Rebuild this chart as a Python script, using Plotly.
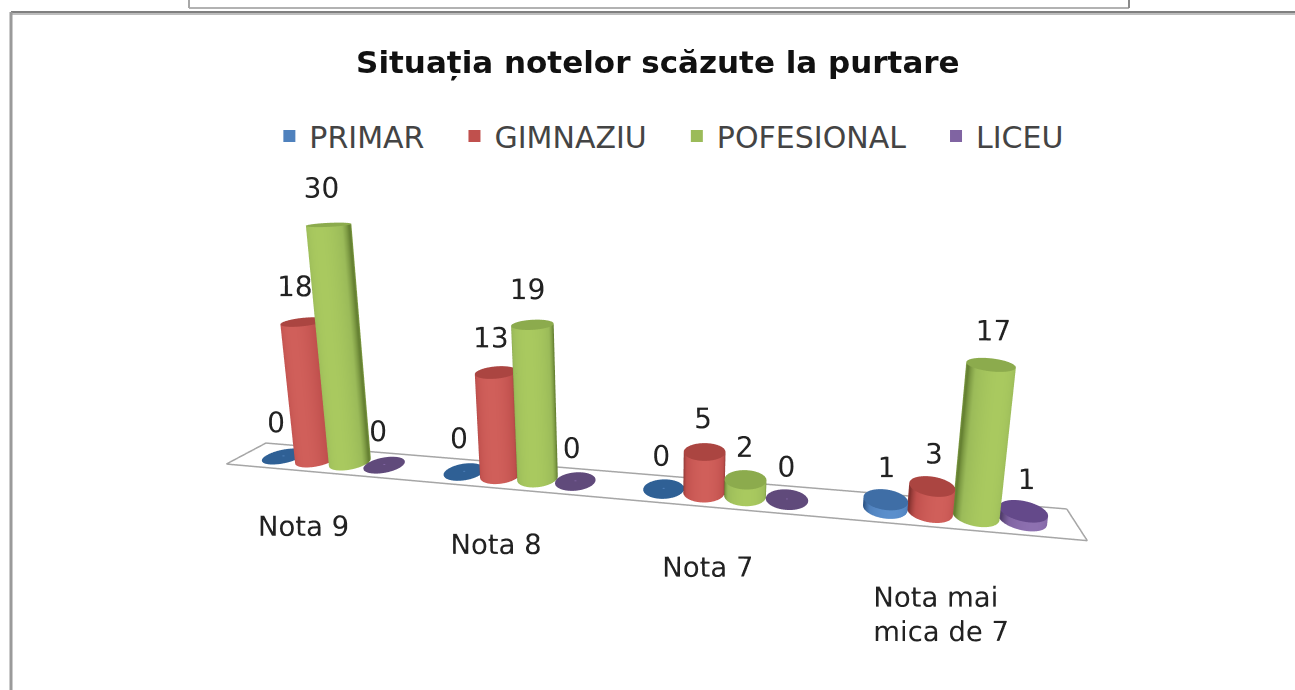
import numpy as np
import plotly.graph_objects as go

categories = ["Nota 9", "Nota 8", "Nota 7", "Nota mai<br>mica de 7"]
series_names = ["PRIMAR", "GIMNAZIU", "POFESIONAL", "LICEU"]
primar = [0, 0, 0, 1]
gimnaziu = [18, 13, 5, 3]
pofesional = [30, 19, 2, 17]
liceu = [0, 0, 0, 1]
series_values = [primar, gimnaziu, pofesional, liceu]

W, H = 1295, 690
XR = (-0.5, 3.5); YR = (-3.0, 3.0); ZR = (-1.0, 40.0)
ex, ey, ez, cx, cy, upx, sy, sz = 0.22450, -0.85286, 0.19801, 0.05366, -0.05154, -0.02001, 0.07735, 0.00997

ay = (YR[1]-YR[0])*sy; az = (ZR[1]-ZR[0])*sz
fig = go.Figure()
colors = ["#4f81bd", "#c0504d", "#9bbb59", "#8064a2"]
dark = ["#2c5282", "#7d2f2c", "#5f7a2e", "#4e3a68"]
light = ["#5b8fcc", "#d05f5a", "#a9c95f", "#8d70b0"]
caps = ["#3f6ea6", "#ab4541", "#8cab4d", "#64498a"]
flat = ["#2f6095", "#c0504d", "#9bbb59", "#604a7b"]
w = .19
rx = .095
ry = 1.2*rx*(1/(XR[1]-XR[0]))/sy
tv = np.arctan2(ey-cy, ex-cx)
matte = dict(ambient=1, diffuse=0, specular=0, fresnel=0, roughness=1)
for j, vals in enumerate(series_values):
    scale = [[0, dark[j]], [.5, colors[j]], [1, light[j]]]
    xs = [i+(j-1.5)*w for i in range(4)]
    for xc, v in zip(xs, vals):
        yc = .5
        th = np.linspace(0, 2*np.pi, 49)
        if v > 0:
            X = np.vstack([xc+rx*np.cos(th)]*2); Y = np.vstack([yc+ry*np.sin(th)]*2)
            Z = np.vstack([0*th, 0*th+v])
            C = np.vstack([np.abs(np.cos(th-tv))]*2)
            fig.add_trace(go.Surface(x=X, y=Y, z=Z, surfacecolor=C, colorscale=scale, cmin=0, cmax=1,
                                     showscale=False, hoverinfo="skip", lighting=matte))
        rr = np.array([0, 1.0])
        X = xc+rx*np.outer(rr, np.cos(th)); Y = yc+ry*np.outer(rr, np.sin(th)); Z = np.full(X.shape, float(v))
        col = caps[j] if v > 0 else flat[j]
        fig.add_trace(go.Surface(x=X, y=Y, z=Z, surfacecolor=0*X, colorscale=[[0, col], [1, col]], cmin=0, cmax=1,
                                 showscale=False, hoverinfo="skip", lighting=matte))
    fig.add_trace(go.Scatter3d(x=xs, y=[.3]*4, z=vals, mode="text", text=[str(v) for v in vals],
                               textposition="top center", textfont=dict(family="DejaVu Sans", size=28, color="#222"),
                               showlegend=False, hoverinfo="skip"))
    fig.add_trace(go.Scatter3d(x=xs, y=[.5]*4, z=[v/2 for v in vals], mode="markers",
                               name=series_names[j]+"\u00a0\u00a0\u2009",
                               marker=dict(size=1, color=colors[j], symbol="square"), hoverinfo="skip"))
floor_x = [-.5, 3.5, 3.5, -.5, -.5]; floor_y = [0, 0, 1, 1, 0]
fig.add_trace(go.Scatter3d(x=floor_x, y=floor_y, z=[0]*5, mode="lines", line=dict(color="#a6a6a6", width=3),
                           showlegend=False, hoverinfo="skip"))
label_x = [i+d for i, d in enumerate([0.06, 0.02, -0.025, -0.1])]
label_y = [-.6, -.6, -.7, -.9]
fig.add_trace(go.Scatter3d(x=label_x, y=label_y, z=[0]*4, mode="text", text=categories, textposition="bottom center",
                           textfont=dict(family="DejaVu Sans", size=27.5, color="#222"), showlegend=False, hoverinfo="skip"))
ax = dict(visible=False, showbackground=False)
frame = [(11, 12, 1295, 12, "#808080", 2), (11, 14, 1295, 14, "#bdbdbd", 2), (11, 12, 11, 690, "#9a9a9a", 3),
         (189, 8, 1129, 8, "#b2b2b2", 2), (189, 0, 189, 8, "#a8a8a8", 2), (1129, 0, 1129, 8, "#8a8a8a", 2)]
fig.update_layout(
    width=W, height=H, margin=dict(l=0, r=0, t=0, b=0), paper_bgcolor="white",
    title=dict(text="<b>Situația notelor scăzute la purtare</b>", x=.508, y=.91, xanchor="center", yanchor="middle",
               font=dict(family="DejaVu Sans", size=31, color="#111")),
    legend=dict(orientation="h", x=.208, y=.803, yanchor="middle", itemsizing="constant",
                font=dict(family="DejaVu Sans", size=30, color="#444")),
    scene=dict(domain=dict(x=[0, 1], y=[0, 1]),
               xaxis=dict(range=list(XR), **ax), yaxis=dict(range=list(YR), **ax), zaxis=dict(range=list(ZR), **ax),
               aspectmode="manual", aspectratio=dict(x=1, y=ay, z=az),
               camera=dict(eye=dict(x=ex, y=ey, z=ez), center=dict(x=cx, y=cy, z=0), up=dict(x=upx, y=0, z=1),
                           projection=dict(type="perspective"))),
    shapes=[dict(type="line", xref="paper", yref="paper", x0=a/W, x1=c/W, y0=1-b/H, y1=1-d/H, line=dict(color=col, width=wd))
            for a, b, c, d, col, wd in frame])
fig.write_html("out.html", config=dict(displayModeBar=False), post_script="document.body.style.margin='0';")
